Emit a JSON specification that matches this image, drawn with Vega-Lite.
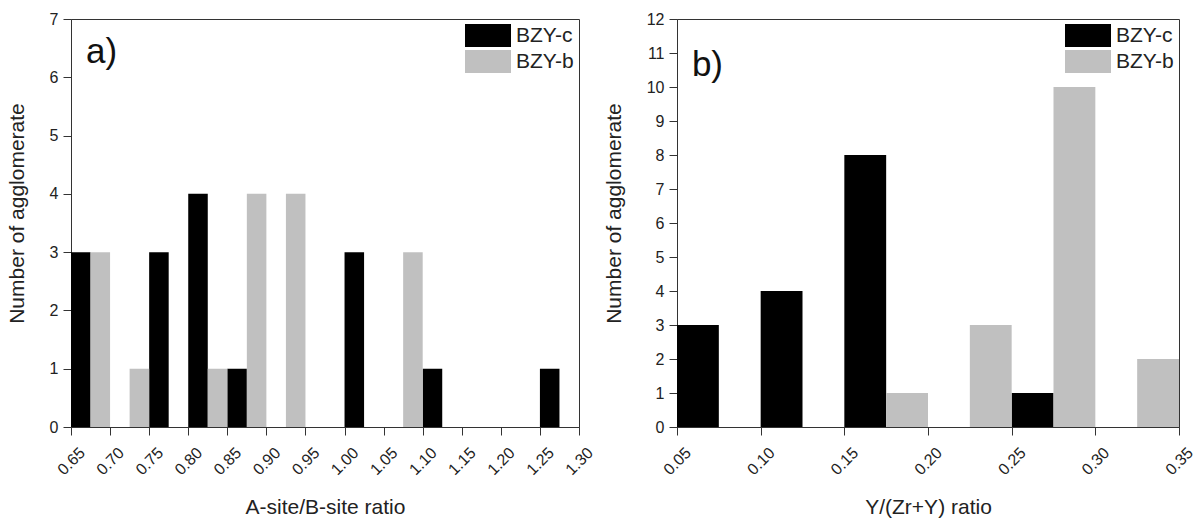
{
  "$schema": "https://vega.github.io/schema/vega-lite/v6.json",
  "padding": {"left": 5, "top": 10, "right": 0, "bottom": 0},
  "background": "white",
  "datasets": {
    "panelA": [
      {"series": "BZY-c", "x0": 0.65, "x1": 0.675, "count": 3},
      {"series": "BZY-c", "x0": 0.75, "x1": 0.775, "count": 3},
      {"series": "BZY-c", "x0": 0.80, "x1": 0.825, "count": 4},
      {"series": "BZY-c", "x0": 0.85, "x1": 0.875, "count": 1},
      {"series": "BZY-c", "x0": 1.00, "x1": 1.025, "count": 3},
      {"series": "BZY-c", "x0": 1.10, "x1": 1.125, "count": 1},
      {"series": "BZY-c", "x0": 1.25, "x1": 1.275, "count": 1},
      {"series": "BZY-b", "x0": 0.675, "x1": 0.70, "count": 3},
      {"series": "BZY-b", "x0": 0.725, "x1": 0.75, "count": 1},
      {"series": "BZY-b", "x0": 0.825, "x1": 0.85, "count": 1},
      {"series": "BZY-b", "x0": 0.875, "x1": 0.90, "count": 4},
      {"series": "BZY-b", "x0": 0.925, "x1": 0.95, "count": 4},
      {"series": "BZY-b", "x0": 1.075, "x1": 1.10, "count": 3}
    ],
    "panelB": [
      {"series": "BZY-c", "x0": 0.05, "x1": 0.075, "count": 3},
      {"series": "BZY-c", "x0": 0.10, "x1": 0.125, "count": 4},
      {"series": "BZY-c", "x0": 0.15, "x1": 0.175, "count": 8},
      {"series": "BZY-c", "x0": 0.25, "x1": 0.275, "count": 1},
      {"series": "BZY-b", "x0": 0.175, "x1": 0.20, "count": 1},
      {"series": "BZY-b", "x0": 0.225, "x1": 0.25, "count": 3},
      {"series": "BZY-b", "x0": 0.275, "x1": 0.30, "count": 10},
      {"series": "BZY-b", "x0": 0.325, "x1": 0.35, "count": 2}
    ]
  },
  "config": {
    "font": "Liberation Sans",
    "view": {"stroke": "#333", "strokeWidth": 1},
    "axis": {
      "domainColor": "#333", "tickColor": "#333", "tickSize": 8, "grid": false,
      "labelOverlap": false, "labelFlush": false, "labelBound": false, "tickCount": 30,
      "labelFont": "Liberation Sans", "labelFontSize": 16, "labelColor": "#222",
      "titleFont": "Liberation Sans", "titleFontSize": 21, "titleFontWeight": "normal", "titleColor": "#222"
    },
    "axisY": {"labelPadding": 5, "titlePadding": 22, "titleY": 194},
    "axisX": {"labelAngle": -45, "labelAlign": "center", "labelBaseline": "middle", "labelPadding": 26, "titlePadding": 19},
    "legend": {
      "orient": "top-right", "offset": 5, "padding": 0,
      "symbolType": "M-1,-0.5H1V0.5H-1Z", "symbolSize": 2116, "symbolStrokeWidth": 0, "symbolOpacity": 1,
      "clipHeight": 23, "rowPadding": 3, "labelOffset": 5,
      "labelFont": "Liberation Sans", "labelFontSize": 21, "labelColor": "#222", "labelLimit": 0
    },
    "concat": {"spacing": 5}
  },
  "hconcat": [
    {
      "width": 508, "height": 408,
      "layer": [
        {
          "data": {"name": "panelA"},
          "mark": {"type": "rect"},
          "encoding": {
            "x": {"field": "x0", "type": "quantitative", "scale": {"domain": [0.65, 1.30], "nice": false, "zero": false},
                  "axis": {"values": [0.65, 0.70, 0.75, 0.80, 0.85, 0.90, 0.95, 1.00, 1.05, 1.10, 1.15, 1.20, 1.25, 1.30], "tickCount": 30, "format": ".2f", "labelOverlap": false, "title": "A-site/B-site ratio"}},
            "x2": {"field": "x1"},
            "y": {"field": "count", "type": "quantitative", "scale": {"domain": [0, 7], "nice": false},
                  "axis": {"values": [0, 1, 2, 3, 4, 5, 6, 7], "tickCount": 30, "format": "d", "labelOverlap": false, "title": "Number of agglomerate"}},
            "y2": {"datum": 0},
            "color": {"field": "series", "type": "nominal",
                      "scale": {"domain": ["BZY-c", "BZY-b"], "range": ["#000000", "#c0c0c0"]},
                      "legend": {"title": null}}
          }
        },
        {
          "data": {"values": [{"label": "a)"}]},
          "mark": {"type": "text", "fontSize": 35, "align": "left", "baseline": "alphabetic", "font": "Liberation Sans", "color": "#111"},
          "encoding": {
            "x": {"datum": 0.6691, "type": "quantitative"},
            "y": {"datum": 6.24, "type": "quantitative"},
            "text": {"field": "label"}
          }
        }
      ]
    },
    {
      "width": 502, "height": 408,
      "layer": [
        {
          "data": {"name": "panelB"},
          "mark": {"type": "rect"},
          "encoding": {
            "x": {"field": "x0", "type": "quantitative", "scale": {"domain": [0.05, 0.35], "nice": false, "zero": false},
                  "axis": {"values": [0.05, 0.10, 0.15, 0.20, 0.25, 0.30, 0.35], "tickCount": 30, "format": ".2f", "labelOverlap": false, "title": "Y/(Zr+Y) ratio"}},
            "x2": {"field": "x1"},
            "y": {"field": "count", "type": "quantitative", "scale": {"domain": [0, 12], "nice": false},
                  "axis": {"values": [0, 1, 2, 3, 4, 5, 6, 7, 8, 9, 10, 11, 12], "tickCount": 30, "format": "d", "labelOverlap": false, "title": "Number of agglomerate"}},
            "y2": {"datum": 0},
            "color": {"field": "series", "type": "nominal",
                      "scale": {"domain": ["BZY-c", "BZY-b"], "range": ["#000000", "#c0c0c0"]},
                      "legend": {"title": null}}
          }
        },
        {
          "data": {"values": [{"label": "b)"}]},
          "mark": {"type": "text", "fontSize": 35, "align": "left", "baseline": "alphabetic", "font": "Liberation Sans", "color": "#111"},
          "encoding": {
            "x": {"datum": 0.0589, "type": "quantitative"},
            "y": {"datum": 10.32, "type": "quantitative"},
            "text": {"field": "label"}
          }
        }
      ]
    }
  ],
  "resolve": {"scale": {"color": "independent"}, "legend": {"color": "independent"}}
}
